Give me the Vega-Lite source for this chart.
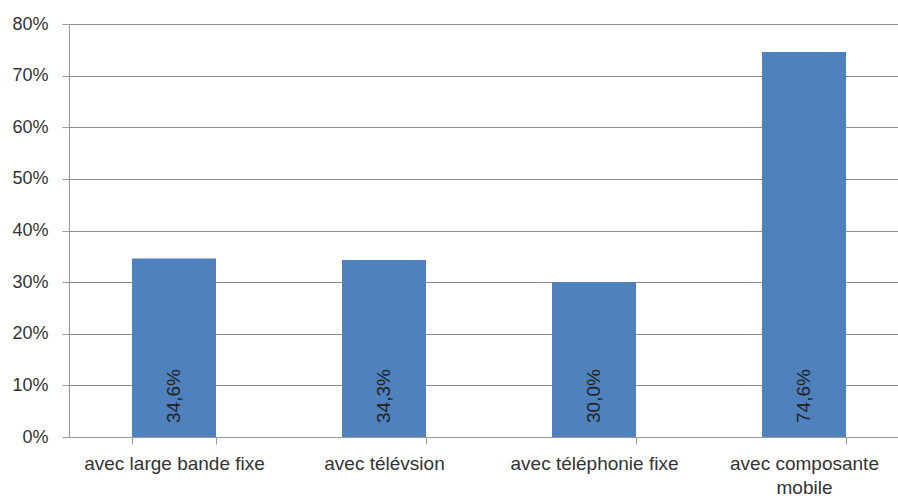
{
  "$schema": "https://vega.github.io/schema/vega-lite/v6.json",
  "width": 840,
  "height": 413,
  "padding": {"left": 69, "top": 24, "right": 0, "bottom": 61},
  "autosize": {"type": "none"},
  "background": "white",
  "config": {
    "view": {"stroke": null},
    "font": "Liberation Sans",
    "locale": {"number": {"decimal": ",", "thousands": " ", "grouping": [3], "currency": ["", " €"]}}
  },
  "data": {
    "values": [
      {"categorie": "avec large bande fixe", "part": 0.346},
      {"categorie": "avec télévsion", "part": 0.343},
      {"categorie": "avec téléphonie fixe", "part": 0.300},
      {"categorie": "avec composante mobile", "part": 0.746}
    ]
  },
  "encoding": {
    "x": {
      "field": "categorie",
      "type": "nominal",
      "sort": null,
      "scale": {"paddingInner": 0.6, "paddingOuter": 0.3},
      "axis": {
        "title": null,
        "labelAngle": 0,
        "labelFontSize": 19,
        "labelColor": "#333333",
        "labelPadding": 10,
        "labelLineHeight": 24,
        "labelBaseline": "top",
        "labelExpr": "datum.value == 'avec composante mobile' ? ['avec composante', 'mobile'] : datum.value",
        "tickBand": "extent",
        "tickSize": 7,
        "tickColor": "#999999",
        "domainColor": "#999999",
        "labelLimit": 300
      }
    }
  },
  "layer": [
    {
      "mark": {"type": "bar", "color": "#4F81BD"},
      "encoding": {
        "y": {
          "field": "part",
          "type": "quantitative",
          "scale": {"domain": [0, 0.8], "nice": false},
          "axis": {
            "title": null,
            "format": ".0%",
            "values": [0, 0.1, 0.2, 0.3, 0.4, 0.5, 0.6, 0.7, 0.8],
            "labelFontSize": 18,
            "labelColor": "#333333",
            "tickSize": 7,
            "labelPadding": 14,
            "tickColor": "#999999",
            "domainColor": "#999999",
            "gridColor": "#8c8c8c",
            "grid": true
          }
        }
      }
    },
    {
      "mark": {"type": "text", "angle": -90, "align": "left", "baseline": "middle", "dx": 14, "fontSize": 19, "color": "#222222"},
      "encoding": {
        "y": {"datum": 0, "type": "quantitative"},
        "text": {"field": "part", "type": "quantitative", "format": ".1%"}
      }
    }
  ]
}
